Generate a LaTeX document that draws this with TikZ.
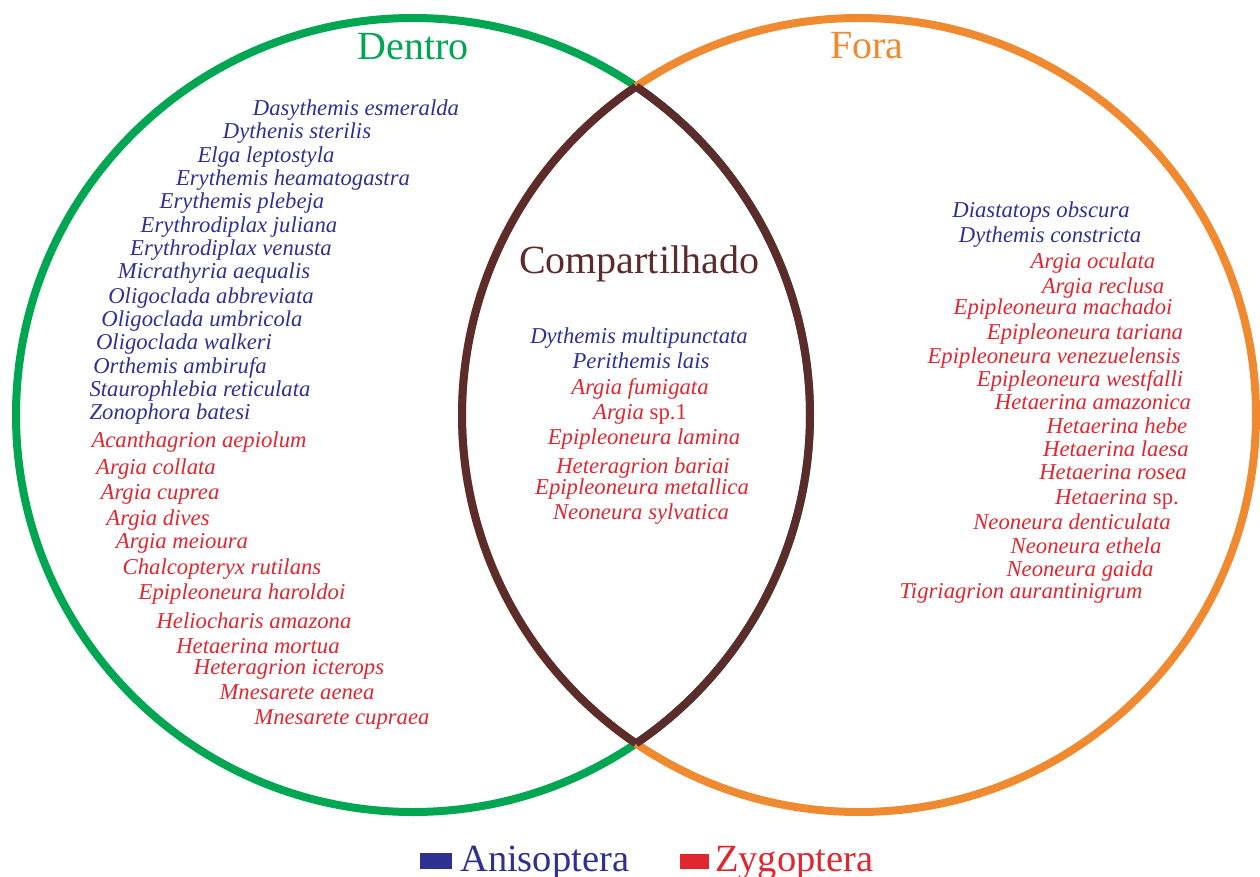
\documentclass[tikz,border=0pt]{standalone}
\usepackage{fontspec}
\setmainfont{Liberation Serif}
\definecolor{vgreen}{HTML}{00A651}
\definecolor{vorange}{HTML}{F08A30}
\definecolor{vbrown}{HTML}{5C2B2B}
\definecolor{aniblue}{HTML}{2E3192}
\definecolor{zygred}{HTML}{E0262F}
\tikzset{
  ring/.style={line width=8pt},
  lensarc/.style={line width=8pt, draw=vbrown},
  ani/.style={text=aniblue, font=\fontsize{22.7}{24}\selectfont\itshape, anchor=base, inner sep=0pt},
  zyg/.style={text=zygred, font=\fontsize{22.7}{24}\selectfont\itshape, anchor=base, inner sep=0pt},
  ttl/.style={font=\fontsize{40}{44}\selectfont, anchor=base, inner sep=0pt},
  leg/.style={font=\fontsize{38.5}{42}\selectfont, anchor=base west, inner sep=0pt},
}
\begin{document}
\begin{tikzpicture}[x=1pt,y=-1pt]
\useasboundingbox (0,0) rectangle (1260,877);
\coordinate (c1) at (413,415);
\coordinate (c2) at (859,415);
\coordinate (itop) at ([shift={(-55.82:397)}]c1);
\coordinate (ibot) at ([shift={(124.18:397)}]c2);
\draw[ring, vgreen] (c1) circle[radius=397];
\draw[ring, vorange] (c2) circle[radius=397];
\draw[lensarc] (itop) arc[start angle=-55.82, end angle=55.82, radius=397];
\draw[lensarc] (ibot) arc[start angle=124.18, end angle=235.82, radius=397];

% titles
\node[ttl, text=vgreen] (tdentro) at (413,60) {Dentro};
\node[ttl, text=vorange] (tfora) at (867,59) {Fora};
\node[ttl, text=vbrown] (tcomp) at (639,273) {Compartilhado};

% Dentro
\node[ani] (d1) at (356,116) {Dasythemis esmeralda};
\node[ani] (d2) at (297,139) {Dythenis sterilis};
\node[ani] (d3) at (266,163) {Elga leptostyla};
\node[ani] (d4) at (293,186) {Erythemis heamatogastra};
\node[ani] (d5) at (242,209) {Erythemis plebeja};
\node[ani] (d6) at (239,233) {Erythrodiplax juliana};
\node[ani] (d7) at (231,256) {Erythrodiplax venusta};
\node[ani] (d8) at (214,279) {Micrathyria aequalis};
\node[ani] (d9) at (211,303) {Oligoclada abbreviata};
\node[ani] (d10) at (202,326) {Oligoclada umbricola};
\node[ani] (d11) at (184,349) {Oligoclada walkeri};
\node[ani] (d12) at (180,373) {Orthemis ambirufa};
\node[ani] (d13) at (200,396) {Staurophlebia reticulata};
\node[ani] (d14) at (170,419) {Zonophora batesi};
\node[zyg] (d15) at (199,447) {Acanthagrion aepiolum};
\node[zyg] (d16) at (156,474) {Argia collata};
\node[zyg] (d17) at (160,499) {Argia cuprea};
\node[zyg] (d18) at (158,525) {Argia dives};
\node[zyg] (d19) at (182,548) {Argia meioura};
\node[zyg] (d20) at (222,574) {Chalcopteryx rutilans};
\node[zyg] (d21) at (242,599) {Epipleoneura haroldoi};
\node[zyg] (d22) at (254,628) {Heliocharis amazona};
\node[zyg] (d23) at (258,653) {Hetaerina mortua};
\node[zyg] (d24) at (289,674) {Heteragrion icterops};
\node[zyg] (d25) at (297,699) {Mnesarete aenea};
\node[zyg] (d26) at (342,724) {Mnesarete cupraea};

% Compartilhado
\node[ani] (s1) at (639,343) {Dythemis multipunctata};
\node[ani] (s2) at (641,368) {Perithemis lais};
\node[zyg] (s3) at (640,394) {Argia fumigata};
\node[zyg] (s4) at (640,419) {Argia \upshape sp.1};
\node[zyg] (s5) at (644,444) {Epipleoneura lamina};
\node[zyg] (s6) at (643,473) {Heteragrion bariai};
\node[zyg] (s7) at (642,494) {Epipleoneura metallica};
\node[zyg] (s8) at (641,519) {Neoneura sylvatica};

% Fora
\node[ani] (f1) at (1041,218) {Diastatops obscura};
\node[ani] (f2) at (1050,243) {Dythemis constricta};
\node[zyg] (f3) at (1093,269) {Argia oculata};
\node[zyg] (f4) at (1103,293) {Argia reclusa};
\node[zyg] (f5) at (1063,314) {Epipleoneura machadoi};
\node[zyg] (f6) at (1085,339) {Epipleoneura tariana};
\node[zyg] (f7) at (1054,363) {Epipleoneura venezuelensis};
\node[zyg] (f8) at (1080,386) {Epipleoneura westfalli};
\node[zyg] (f9) at (1093,409) {Hetaerina amazonica};
\node[zyg] (f10) at (1117,433) {Hetaerina hebe};
\node[zyg] (f11) at (1116,456) {Hetaerina laesa};
\node[zyg] (f12) at (1113,479) {Hetaerina rosea};
\node[zyg] (f13) at (1117,504) {Hetaerina \upshape sp.};
\node[zyg] (f14) at (1072,529) {Neoneura denticulata};
\node[zyg] (f15) at (1086,553) {Neoneura ethela};
\node[zyg] (f16) at (1080,576) {Neoneura gaida};
\node[zyg] (f17) at (1021,598) {Tigriagrion aurantinigrum};

% legend
\fill[aniblue] (420,853) rectangle (452,869);
\node[leg, text=aniblue] (lani) at (460,871) {Anisoptera};
\fill[zygred] (680,854) rectangle (709,869);
\node[leg, text=zygred] (lzyg) at (715,871) {Zygoptera};
\end{tikzpicture}
\end{document}
